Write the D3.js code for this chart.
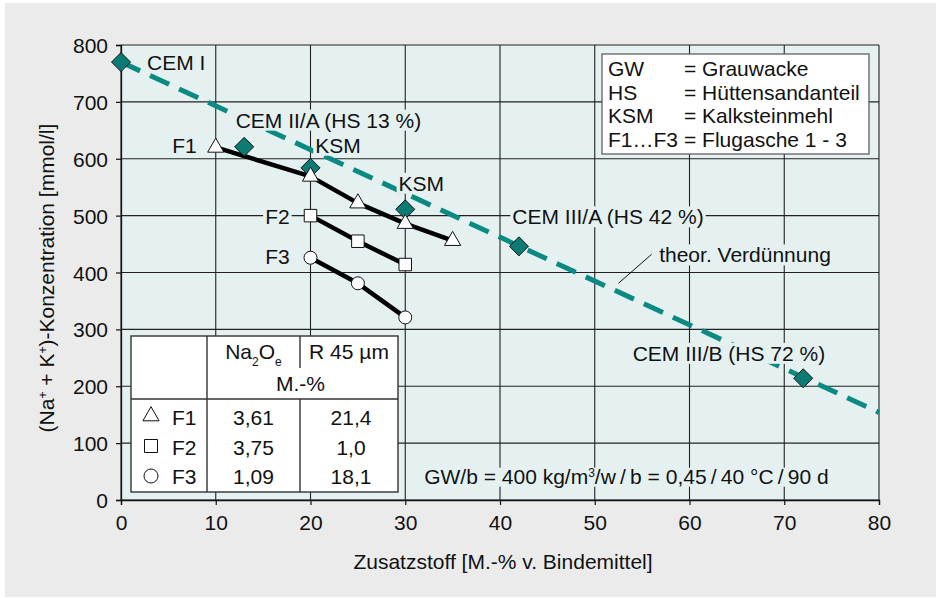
<html>
<head>
    <script src="https://cdnjs.cloudflare.com/ajax/libs/d3/7.8.5/d3.min.js"></script>
    <style>
        body { margin: 0; background: #fff; }
        text { font-family: "Liberation Sans", Arial, Helvetica, sans-serif; fill: #111; }
    </style>
</head>
<body>
<script>
    // --- data ---
    const xTicks = [0, 10, 20, 30, 40, 50, 60, 70, 80];
    const yTicks = [0, 100, 200, 300, 400, 500, 600, 700, 800];

    // theoretical dilution line (CEM I diluted by additive)
    const dilutionX = [0, 80];
    const dilutionY = [770, 154];

    // cements (diamonds)
    const cemX = [0, 13, 20, 30, 42, 72];
    const cemY = [770, 621, 584, 511, 446, 214];

    // fly ash series
    const f1X = [10, 20, 25, 30, 35];
    const f1Y = [620, 569, 522, 486, 456];
    const f2X = [20, 25, 30];
    const f2Y = [500, 455, 414];
    const f3X = [20, 25, 30];
    const f3Y = [426, 381, 321];

    // table
    const tableNames = ['F1', 'F2', 'F3'];
    const tableNa2O = ['3,61', '3,75', '1,09'];
    const tableR45 = ['21,4', '1,0', '18,1'];

    // abbreviations box
    const abbrKeys = ['GW', 'HS', 'KSM', 'F1…F3'];
    const abbrVals = ['= Grauwacke', '= Hüttensandanteil', '= Kalksteinmehl', '= Flugasche 1 - 3'];

    // --- layout ---
    const W = 938, H = 598;
    const margin = { left: 121, top: 45, right: 59, bottom: 98 };
    const pw = W - margin.left - margin.right;
    const ph = H - margin.top - margin.bottom;
    const FS = 21;
    const plotBg = '#e5f1f1';
    const teal = '#0a8a82';
    const tealDark = '#0b7b74';

    const svg = d3.select('body').append('svg')
        .attr('width', W)
        .attr('height', H);

    svg.append('rect')
        .attr('x', 5).attr('y', 3)
        .attr('width', 931).attr('height', 594)
        .style('fill', '#ebebeb');

    const x = d3.scaleLinear().domain([0, 80]).range([0, pw]);
    const y = d3.scaleLinear().domain([0, 800]).range([ph, 0]);

    const g = svg.append('g')
        .attr('transform', `translate(${margin.left}, ${margin.top})`);

    g.append('rect')
        .attr('width', pw).attr('height', ph)
        .style('fill', plotBg);

    // grid
    g.selectAll('.vgrid')
        .data(xTicks)
        .enter().append('line')
        .attr('x1', d => x(d)).attr('x2', d => x(d))
        .attr('y1', 0).attr('y2', ph)
        .style('stroke', '#222').style('stroke-width', 1.1);
    g.selectAll('.hgrid')
        .data(yTicks)
        .enter().append('line')
        .attr('y1', d => y(d)).attr('y2', d => y(d))
        .attr('x1', 0).attr('x2', pw)
        .style('stroke', '#222').style('stroke-width', 1.1);

    // axes
    const xAxis = g.append('g')
        .attr('transform', `translate(0, ${ph})`)
        .call(d3.axisBottom(x).tickValues(xTicks).tickSize(5).tickPadding(9));
    const yAxis = g.append('g')
        .call(d3.axisLeft(y).tickValues(yTicks).tickSize(5).tickPadding(8));
    [xAxis, yAxis].forEach(a => {
        a.select('.domain').style('stroke', '#111').style('stroke-width', 1.3);
        a.selectAll('.tick line').style('stroke', '#111').style('stroke-width', 1.2);
        a.selectAll('.tick text')
            .style('font-size', FS + 'px')
            .style('font-family', '"Liberation Sans", Arial, sans-serif')
            .style('fill', '#111');
    });
    xAxis.selectAll('.tick text').attr('dy', '0.75em');
    yAxis.selectAll('.tick text').attr('dy', '0.36em');

    // axis titles
    svg.append('text')
        .attr('x', margin.left + pw / 2 + 3)
        .attr('y', 569)
        .attr('text-anchor', 'middle')
        .style('font-size', FS + 'px')
        .text('Zusatzstoff [M.-% v. Bindemittel]');

    const yl = svg.append('text')
        .attr('transform', 'translate(54, 278) rotate(-90)')
        .attr('text-anchor', 'middle')
        .style('font-size', FS + 'px');
    yl.append('tspan').text('(Na');
    yl.append('tspan').text('+').attr('dy', -7).style('font-size', '12px');
    yl.append('tspan').text(' + K').attr('dy', 7);
    yl.append('tspan').text('+').attr('dy', -7).style('font-size', '12px');
    yl.append('tspan').text(')-Konzentration [mmol/l]').attr('dy', 7);

    // labels with background knock-out
    const labelLayer = g.append('g');
    function label(txt, xv, yv, anchor) {
        const lg = labelLayer.append('g');
        const t = lg.append('text')
            .attr('x', x(xv)).attr('y', y(yv))
            .attr('dy', '0.36em')
            .attr('text-anchor', anchor || 'start')
            .style('font-size', FS + 'px')
            .text(txt);
        const bb = t.node().getBBox();
        lg.insert('rect', 'text')
            .attr('x', bb.x - 2).attr('y', bb.y + 1)
            .attr('width', bb.width + 4).attr('height', bb.height - 2)
            .style('fill', plotBg);
        return t;
    }

    // dashed dilution line
    const line = d3.line().x(d => x(d[0])).y(d => y(d[1]));
    g.append('path')
        .datum(d3.zip(dilutionX, dilutionY))
        .attr('d', line)
        .style('fill', 'none')
        .style('stroke', teal)
        .style('stroke-width', 5)
        .style('stroke-dasharray', '21,11');

    // label knockouts go above the dashed line but below markers
    g.node().appendChild(labelLayer.node());
    label('CEM I', 2.75, 770);
    label('CEM II/A (HS 13 %)', 12.1, 668);
    label('F1', 8.0, 624, 'end');
    label('KSM', 20.5, 624);
    label('KSM', 29.3, 557);
    label('F2', 17.8, 498, 'end');
    label('F3', 17.8, 429, 'end');
    label('CEM III/A (HS 42 %)', 41.3, 498);
    label('theor. Verdünnung', 56.8, 431);
    label('CEM III/B (HS 72 %)', 54.0, 258);

    const note = label('', 32.0, 42);
    note.text(null);
    note.append('tspan').text('GW/b = 400 kg/m');
    note.append('tspan').text('3').attr('dy', -7).style('font-size', '12px');
    note.append('tspan').text('/w\u2009/\u2009b = 0,45\u2009/\u200940 °C\u2009/\u200990 d').attr('dy', 7);
    {
        const bb = note.node().getBBox();
        d3.select(note.node().parentNode).select('rect')
            .attr('x', bb.x - 2).attr('y', bb.y + 3)
            .attr('width', bb.width + 4).attr('height', bb.height - 4);
    }

    // leader line
    g.append('line')
        .attr('x1', x(56.0)).attr('y1', y(432))
        .attr('x2', x(52.5)).attr('y2', y(381))
        .style('stroke', '#111').style('stroke-width', 1);

    // fly ash lines
    [[f1X, f1Y], [f2X, f2Y], [f3X, f3Y]].forEach(([xs, ys]) => {
        g.append('path')
            .datum(d3.zip(xs, ys))
            .attr('d', line)
            .style('fill', 'none')
            .style('stroke', '#000')
            .style('stroke-width', 4.5)
            .style('stroke-linejoin', 'round');
    });

    // marker shapes
    const triPath = s => `M0,${-s * 0.62}L${s * 0.54},${s * 0.32}L${-s * 0.54},${s * 0.32}Z`;
    const sqPath = s => `M${-s / 2},${-s / 2}h${s}v${s}h${-s}Z`;
    const diaPath = s => `M0,${-s}L${s},0L0,${s}L${-s},0Z`;

    g.selectAll('.cem')
        .data(d3.zip(cemX, cemY))
        .enter().append('path')
        .attr('transform', d => `translate(${x(d[0])}, ${y(d[1])})`)
        .attr('d', diaPath(9.5))
        .style('fill', tealDark)
        .style('stroke', '#111')
        .style('stroke-width', 1);

    g.selectAll('.f1')
        .data(d3.zip(f1X, f1Y))
        .enter().append('path')
        .attr('transform', d => `translate(${x(d[0])}, ${y(d[1])})`)
        .attr('d', triPath(15))
        .style('fill', '#fff').style('stroke', '#111').style('stroke-width', 1);

    g.selectAll('.f2')
        .data(d3.zip(f2X, f2Y))
        .enter().append('path')
        .attr('transform', d => `translate(${x(d[0])}, ${y(d[1])})`)
        .attr('d', sqPath(12.5))
        .style('fill', '#fff').style('stroke', '#111').style('stroke-width', 1);

    g.selectAll('.f3')
        .data(d3.zip(f3X, f3Y))
        .enter().append('circle')
        .attr('cx', d => x(d[0])).attr('cy', d => y(d[1]))
        .attr('r', 6.5)
        .style('fill', '#fff').style('stroke', '#111').style('stroke-width', 1);

    // abbreviations box
    const ab = svg.append('g').attr('transform', 'translate(602, 54)');
    ab.append('rect')
        .attr('width', 267).attr('height', 100)
        .style('fill', '#fff').style('stroke', '#555').style('stroke-width', 1.2);
    abbrKeys.forEach((k, i) => {
        ab.append('text').attr('x', 6).attr('y', 22 + i * 23.7)
            .style('font-size', FS + 'px').text(k);
        ab.append('text').attr('x', 82).attr('y', 22 + i * 23.7)
            .style('font-size', FS + 'px').text(abbrVals[i]);
    });

    // property table
    const tb = svg.append('g').attr('transform', 'translate(131, 336)');
    const tw = 267, th = 156, c1 = 76, c2 = 169, hh = 63;
    tb.append('rect')
        .attr('width', tw).attr('height', th)
        .style('fill', '#fff').style('stroke', '#333').style('stroke-width', 1.4);
    const tl = (x1, y1, x2, y2) => tb.append('line')
        .attr('x1', x1).attr('y1', y1).attr('x2', x2).attr('y2', y2)
        .style('stroke', '#333').style('stroke-width', 1.4);
    tl(c1, 0, c1, th);
    tl(c2, 0, c2, 32);
    tl(c2, hh, c2, th);
    tl(0, hh, tw, hh);

    const na = tb.append('text').attr('x', (c1 + c2) / 2).attr('y', 23)
        .attr('text-anchor', 'middle').style('font-size', FS + 'px');
    na.append('tspan').text('Na');
    na.append('tspan').text('2').attr('dy', 7).style('font-size', '12px');
    na.append('tspan').text('O').attr('dy', -7);
    na.append('tspan').text('e').attr('dy', 7).style('font-size', '12px');
    tb.append('text').attr('x', (c2 + tw) / 2).attr('y', 23)
        .attr('text-anchor', 'middle').style('font-size', FS + 'px')
        .text('R 45 µm');
    tb.append('text').attr('x', (c1 + tw) / 2 - 2).attr('y', 55)
        .attr('text-anchor', 'middle').style('font-size', FS + 'px')
        .text('M.-%');

    const rowY = [81, 111, 140];
    const symbols = [triPath(15), sqPath(13), null];
    tableNames.forEach((n, i) => {
        if (symbols[i]) {
            tb.append('path')
                .attr('transform', `translate(20, ${rowY[i] - 1})`)
                .attr('d', symbols[i])
                .style('fill', '#fff').style('stroke', '#111').style('stroke-width', 1);
        } else {
            tb.append('circle').attr('cx', 20).attr('cy', rowY[i]).attr('r', 7)
                .style('fill', '#fff').style('stroke', '#111').style('stroke-width', 1);
        }
        tb.append('text').attr('x', 41).attr('y', rowY[i]).attr('dy', '0.36em')
            .style('font-size', FS + 'px').text(n);
        tb.append('text').attr('x', (c1 + c2) / 2).attr('y', rowY[i]).attr('dy', '0.36em')
            .attr('text-anchor', 'middle').style('font-size', FS + 'px').text(tableNa2O[i]);
        tb.append('text').attr('x', (c2 + tw) / 2 + 2).attr('y', rowY[i]).attr('dy', '0.36em')
            .attr('text-anchor', 'middle').style('font-size', FS + 'px').text(tableR45[i]);
    });
</script>
</body>
</html>
